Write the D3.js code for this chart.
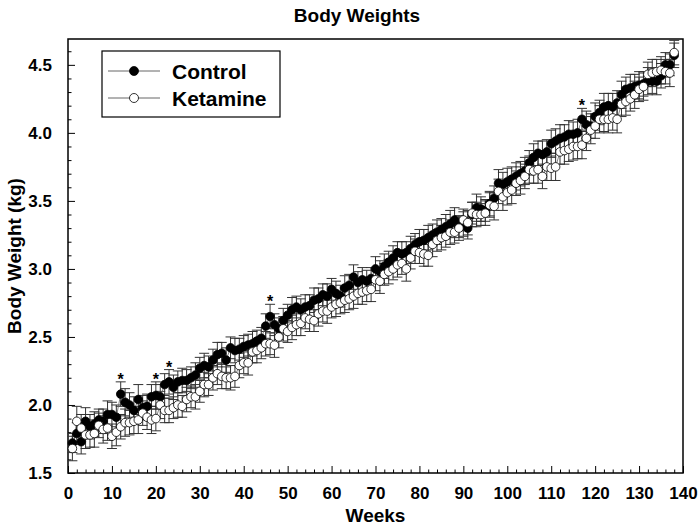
<!DOCTYPE html>
<html><head><meta charset="utf-8">
<script src="https://cdn.jsdelivr.net/npm/d3@7"></script>
<style>html,body{margin:0;padding:0;background:#fff;} svg{display:block;font-family:"Liberation Sans",Arial,sans-serif;}</style>
</head><body>
<svg id="chart" width="700" height="527"></svg>
<script>
const weeks = d3.range(1, 139);
const control = [1.72,1.79,1.73,1.88,1.84,1.86,1.89,1.88,1.93,1.93,1.91,2.08,2.02,2.00,1.96,2.04,1.98,1.99,2.06,2.07,
2.06,2.15,2.17,2.13,2.17,2.18,2.18,2.20,2.22,2.27,2.29,2.28,2.33,2.37,2.38,2.33,2.42,2.40,2.41,2.43,
2.44,2.45,2.47,2.49,2.58,2.65,2.59,2.56,2.62,2.66,2.70,2.72,2.70,2.72,2.73,2.77,2.78,2.81,2.80,2.85,
2.82,2.80,2.86,2.88,2.94,2.90,2.92,2.91,2.93,3.00,2.98,3.02,3.05,3.08,3.12,3.11,3.12,3.15,3.18,3.20,
3.21,3.23,3.25,3.27,3.29,3.31,3.33,3.36,3.31,3.33,3.30,3.40,3.45,3.44,3.43,3.48,3.52,3.63,3.62,3.64,
3.66,3.68,3.70,3.72,3.78,3.82,3.85,3.84,3.86,3.92,3.94,3.96,3.97,3.99,3.99,4.00,4.10,4.06,4.05,4.12,
4.15,4.19,4.20,4.19,4.22,4.28,4.32,4.33,4.34,4.35,4.36,4.38,4.38,4.38,4.42,4.50,4.50,4.57];
const ketamine = [1.68,1.88,1.83,1.78,1.78,1.79,1.85,1.82,1.83,1.77,1.80,1.84,1.87,1.87,1.88,1.89,1.94,1.91,1.89,1.90,
2.00,1.96,1.96,1.98,2.00,1.99,2.04,2.06,2.06,2.10,2.15,2.15,2.20,2.23,2.21,2.20,2.20,2.21,2.29,2.31,
2.31,2.39,2.40,2.42,2.45,2.45,2.44,2.50,2.56,2.54,2.57,2.59,2.60,2.64,2.63,2.62,2.67,2.69,2.69,2.72,
2.74,2.75,2.77,2.78,2.80,2.82,2.83,2.84,2.85,2.92,2.91,2.96,2.98,3.00,3.03,3.04,3.00,3.08,3.13,3.12,
3.11,3.10,3.18,3.21,3.23,3.24,3.27,3.27,3.30,3.36,3.34,3.41,3.40,3.40,3.41,3.47,3.46,3.57,3.53,3.56,
3.58,3.63,3.65,3.68,3.73,3.72,3.73,3.68,3.75,3.74,3.75,3.86,3.87,3.88,3.90,3.90,3.91,3.96,4.02,4.05,
4.10,4.10,4.10,4.11,4.10,4.21,4.23,4.25,4.28,4.32,4.34,4.43,4.44,4.45,4.46,4.45,4.44,4.59];
const controlSE = [0.07,0.08,0.09,0.10,0.09,0.09,0.08,0.09,0.10,0.09,0.09,0.09,0.10,0.09,0.10,0.11,0.09,0.09,0.09,0.10,
0.09,0.08,0.09,0.09,0.08,0.09,0.08,0.08,0.09,0.08,0.09,0.08,0.08,0.09,0.08,0.09,0.08,0.09,0.08,0.08,
0.08,0.09,0.08,0.08,0.09,0.09,0.08,0.08,0.09,0.08,0.09,0.08,0.08,0.09,0.08,0.09,0.08,0.08,0.09,0.08,
0.09,0.08,0.09,0.08,0.09,0.08,0.09,0.08,0.08,0.09,0.08,0.09,0.08,0.09,0.08,0.09,0.08,0.09,0.08,0.09,
0.08,0.09,0.08,0.09,0.08,0.09,0.10,0.09,0.08,0.09,0.08,0.09,0.10,0.09,0.08,0.09,0.09,0.10,0.09,0.10,
0.09,0.10,0.09,0.10,0.09,0.10,0.09,0.10,0.09,0.10,0.09,0.10,0.09,0.10,0.09,0.10,0.08,0.10,0.09,0.10,
0.09,0.10,0.09,0.10,0.09,0.10,0.09,0.10,0.09,0.10,0.09,0.10,0.09,0.10,0.09,0.09,0.08,0.09];
const ketamineSE = [0.09,0.11,0.10,0.10,0.09,0.10,0.09,0.10,0.09,0.09,0.10,0.09,0.10,0.09,0.09,0.10,0.09,0.09,0.10,0.09,
0.10,0.09,0.09,0.08,0.09,0.08,0.09,0.08,0.09,0.08,0.09,0.08,0.09,0.08,0.09,0.08,0.09,0.08,0.09,0.08,
0.09,0.08,0.09,0.08,0.09,0.08,0.09,0.08,0.09,0.08,0.09,0.08,0.09,0.08,0.09,0.08,0.09,0.08,0.09,0.08,
0.09,0.08,0.09,0.08,0.09,0.08,0.09,0.08,0.09,0.08,0.09,0.08,0.09,0.08,0.09,0.08,0.09,0.08,0.09,0.08,
0.09,0.08,0.09,0.08,0.09,0.08,0.09,0.08,0.09,0.08,0.09,0.08,0.09,0.08,0.09,0.09,0.10,0.09,0.10,0.09,
0.10,0.09,0.10,0.09,0.10,0.09,0.10,0.09,0.10,0.09,0.10,0.09,0.10,0.09,0.10,0.09,0.10,0.09,0.10,0.09,
0.10,0.09,0.10,0.09,0.10,0.09,0.10,0.09,0.10,0.09,0.10,0.09,0.10,0.09,0.10,0.09,0.10,0.09];
const starWeeks = [12, 20, 23, 46, 117];
const xTicks = [0,10,20,30,40,50,60,70,80,90,100,110,120,130,140];
const yTicks = [1.5,2.0,2.5,3.0,3.5,4.0,4.5];
const seriesNames = ["Control", "Ketamine"];

const svg = d3.select("#chart");
const L = 68, R = 683, T = 39, B = 473;
const x = d3.scaleLinear().domain([0, 140]).range([L, R]);
const y = d3.scaleLinear().domain([1.5, 4.69]).range([B, T]);

// title
svg.append("text").attr("x", 357).attr("y", 22).attr("text-anchor", "middle")
  .attr("font-size", 19).attr("font-weight", "bold").text("Body Weights");

// axes with inward ticks
const xMajor = d3.axisBottom(x).tickValues(xTicks).tickSize(-7).tickPadding(14).tickFormat(d3.format("d"));
const xMinor = d3.axisBottom(x).tickValues(d3.range(0, 141, 2).filter(v => v % 10 !== 0)).tickSize(-3.5).tickFormat("");
const yMajor = d3.axisLeft(y).tickValues(yTicks).tickSize(-7).tickPadding(16).tickFormat(d3.format(".1f"));
const yMinor = d3.axisLeft(y).tickValues(d3.range(16, 47).map(v => v / 10).filter(v => Math.round(v * 10) % 5 !== 0)).tickSize(-3.5).tickFormat("");

function styleAxis(g) {
  g.select(".domain").remove();
  g.selectAll("line").attr("stroke", "#000").attr("stroke-width", 1);
  g.selectAll("text").attr("font-size", 17).attr("font-weight", "bold").attr("fill", "#000")
    .attr("font-family", "Liberation Sans, Arial, sans-serif");
}
svg.append("g").attr("transform", `translate(0,${B})`).call(xMinor).call(styleAxis);
svg.append("g").attr("transform", `translate(0,${B})`).call(xMajor).call(styleAxis);
svg.append("g").attr("transform", `translate(${L},0)`).call(yMinor).call(styleAxis);
svg.append("g").attr("transform", `translate(${L},0)`).call(yMajor).call(styleAxis);

// frame
svg.append("rect").attr("x", L).attr("y", T).attr("width", R - L).attr("height", B - T)
  .attr("fill", "none").attr("stroke", "#000").attr("stroke-width", 1.5);

// axis labels
svg.append("text").attr("x", (L + R) / 2).attr("y", 522).attr("text-anchor", "middle")
  .attr("font-size", 19).attr("font-weight", "bold").text("Weeks");
svg.append("text").attr("transform", `translate(21,${(T + B) / 2}) rotate(-90)`).attr("text-anchor", "middle")
  .attr("font-size", 19).attr("font-weight", "bold").text("Body Weight (kg)");

const ctrlData = weeks.map((w, i) => ({w, v: control[i], se: controlSE[i] ?? 0.09}));
const ketData = weeks.map((w, i) => ({w, v: ketamine[i], se: ketamineSE[i] ?? 0.09}));

const plot = svg.append("g");
function errorBars(data) {
  const g = plot.append("g").attr("stroke", "#333").attr("stroke-width", 1);
  data.forEach(d => {
    const cx = x(d.w), y0 = y(d.v - d.se), y1 = y(d.v + d.se);
    g.append("line").attr("x1", cx).attr("x2", cx).attr("y1", y0).attr("y2", y1);
    g.append("line").attr("x1", cx - 5).attr("x2", cx + 5).attr("y1", y0).attr("y2", y0);
    g.append("line").attr("x1", cx - 5).attr("x2", cx + 5).attr("y1", y1).attr("y2", y1);
  });
}
errorBars(ctrlData);
errorBars(ketData);

const line = d3.line().x(d => x(d.w)).y(d => y(d.v));
plot.append("path").datum(ctrlData).attr("d", line).attr("fill", "none").attr("stroke", "#666").attr("stroke-width", 0.8);
plot.append("path").datum(ketData).attr("d", line).attr("fill", "none").attr("stroke", "#666").attr("stroke-width", 0.8);

plot.append("g").selectAll("circle").data(ctrlData).join("circle")
  .attr("cx", d => x(d.w)).attr("cy", d => y(d.v)).attr("r", 4.3)
  .attr("fill", "#000").attr("stroke", "#000").attr("stroke-width", 0.8);
plot.append("g").selectAll("circle").data(ketData).join("circle")
  .attr("cx", d => x(d.w)).attr("cy", d => y(d.v)).attr("r", 4.3)
  .attr("fill", "#fff").attr("stroke", "#000").attr("stroke-width", 0.8);

// significance stars
plot.append("g").selectAll("text").data(starWeeks).join("text")
  .attr("x", w => x(w)).attr("y", w => { const d = ctrlData[w - 1]; return y(d.v + d.se) + 3; })
  .attr("text-anchor", "middle").attr("font-size", 16).attr("font-weight", "bold").text("*");

// legend
const lg = svg.append("g");
lg.append("rect").attr("x", 102).attr("y", 51).attr("width", 178).attr("height", 66)
  .attr("fill", "#fff").attr("stroke", "#000").attr("stroke-width", 1.2);
seriesNames.forEach((name, i) => {
  const ly = 71 + i * 27;
  lg.append("line").attr("x1", 108).attr("x2", 160).attr("y1", ly).attr("y2", ly).attr("stroke", "#666").attr("stroke-width", 1);
  lg.append("circle").attr("cx", 134).attr("cy", ly).attr("r", 4.5)
    .attr("fill", i === 0 ? "#000" : "#fff").attr("stroke", "#000").attr("stroke-width", 0.8);
  lg.append("text").attr("x", 172).attr("y", ly + 8).attr("font-size", 21).attr("font-weight", "bold").text(name);
});
</script>
</body></html>
